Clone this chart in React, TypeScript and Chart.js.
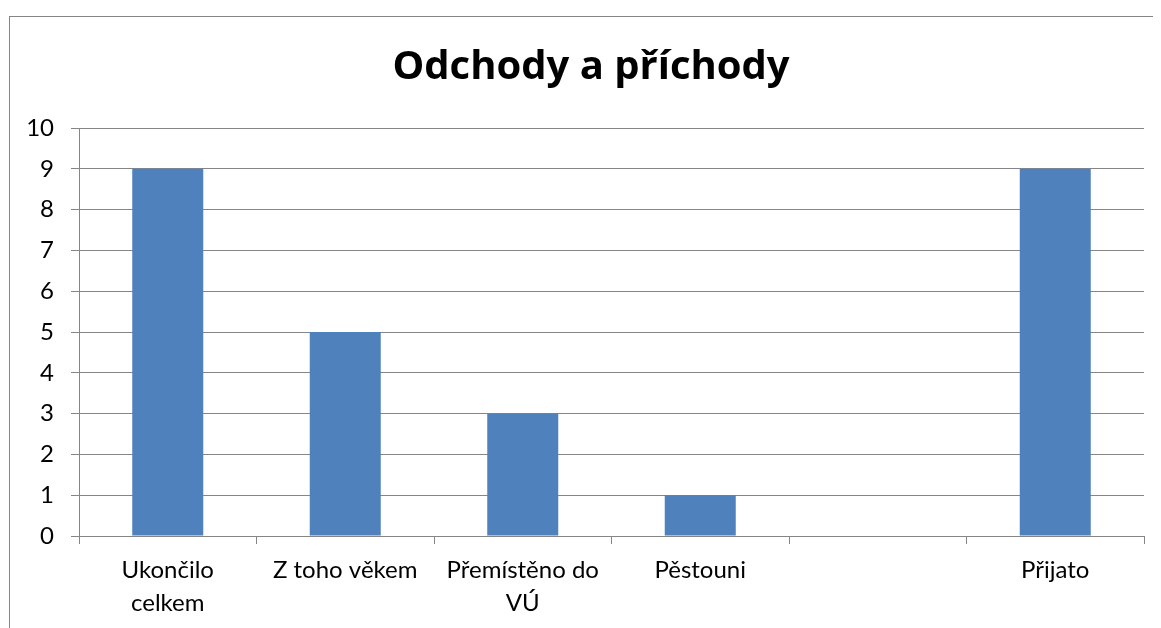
import React, { useEffect, useRef } from "react";
import { Chart, registerables } from "chart.js";

Chart.register(...registerables);

const categories: (string | string[])[] = [
  ["Ukončilo", "celkem"],
  "Z toho věkem",
  ["Přemístěno do", "VÚ"],
  "Pěstouni",
  "",
  "Přijato",
];
const values: (number | null)[] = [9, 5, 3, 1, null, 9];
const titleText = "Odchody a příchody";
const yMin = 0;
const yMax = 10;
const yStep = 1;

const FONT = "Lato, 'Open Sans', sans-serif";
const TITLE_FONT = "'Open Sans', Lato, sans-serif";
const GRID = "#868686";

const shiftTitle = {
  id: "shiftTitle",
  beforeDraw(chart: any) {
    const t = chart.titleBlock;
    if (t && !t._shifted) {
      t.left += 30;
      t._shifted = true;
    }
  },
};

export default function App() {
  const ref = useRef<HTMLCanvasElement | null>(null);
  useEffect(() => {
    if (!ref.current) return;
    const chart = new Chart(ref.current, {
      type: "bar",
      data: {
        labels: categories,
        datasets: [
          {
            data: values,
            backgroundColor: "#4F81BD",
            borderWidth: 0,
            categoryPercentage: 1,
            barPercentage: 0.4,
          },
        ],
      },
      plugins: [shiftTitle],
      options: {
        animation: false,
        responsive: false,
        maintainAspectRatio: false,
        layout: { padding: { left: 0, right: 17, top: 0, bottom: 0 } },
        plugins: {
          legend: { display: false },
          tooltip: { enabled: false },
          title: {
            display: true,
            text: titleText,
            color: "#000",
            font: { family: TITLE_FONT, size: 40, weight: "bold", lineHeight: 1.2 },
            padding: { top: 35.4, bottom: 36.6 },
          },
        },
        scales: {
          x: {
            afterFit: (s: any) => {
              s.height = 92;
            },
            grid: {
              offset: true,
              drawOnChartArea: false,
              drawTicks: true,
              tickLength: 8,
              color: GRID,
            },
            border: { display: true, color: GRID, width: 1 },
            ticks: {
              color: "#000",
              padding: 10,
              maxRotation: 0,
              autoSkip: false,
              font: { family: FONT, size: 24, lineHeight: 1.375 },
            },
          },
          y: {
            min: yMin,
            max: yMax,
            afterFit: (s: any) => {
              s.width = 71;
            },
            grid: {
              color: GRID,
              drawTicks: true,
              tickLength: 8,
            },
            border: { display: true, color: GRID, width: 1 },
            ticks: {
              stepSize: yStep,
              color: "#000",
              padding: 17,
              font: { family: FONT, size: 24 },
            },
          },
        },
      },
    });
    return () => chart.destroy();
  }, []);

  return (
    <div style={{ position: "relative", width: 1153, height: 620, overflow: "hidden" }}>
      <div
        style={{
          position: "absolute",
          left: 1,
          top: 8,
          width: 1300,
          height: 800,
          border: "1px solid #858585",
          boxSizing: "border-box",
        }}
      />
      <canvas
        ref={ref}
        width={1153}
        height={620}
        style={{ position: "absolute", left: 0, top: 0, width: 1153, height: 620 }}
      />
    </div>
  );
}
